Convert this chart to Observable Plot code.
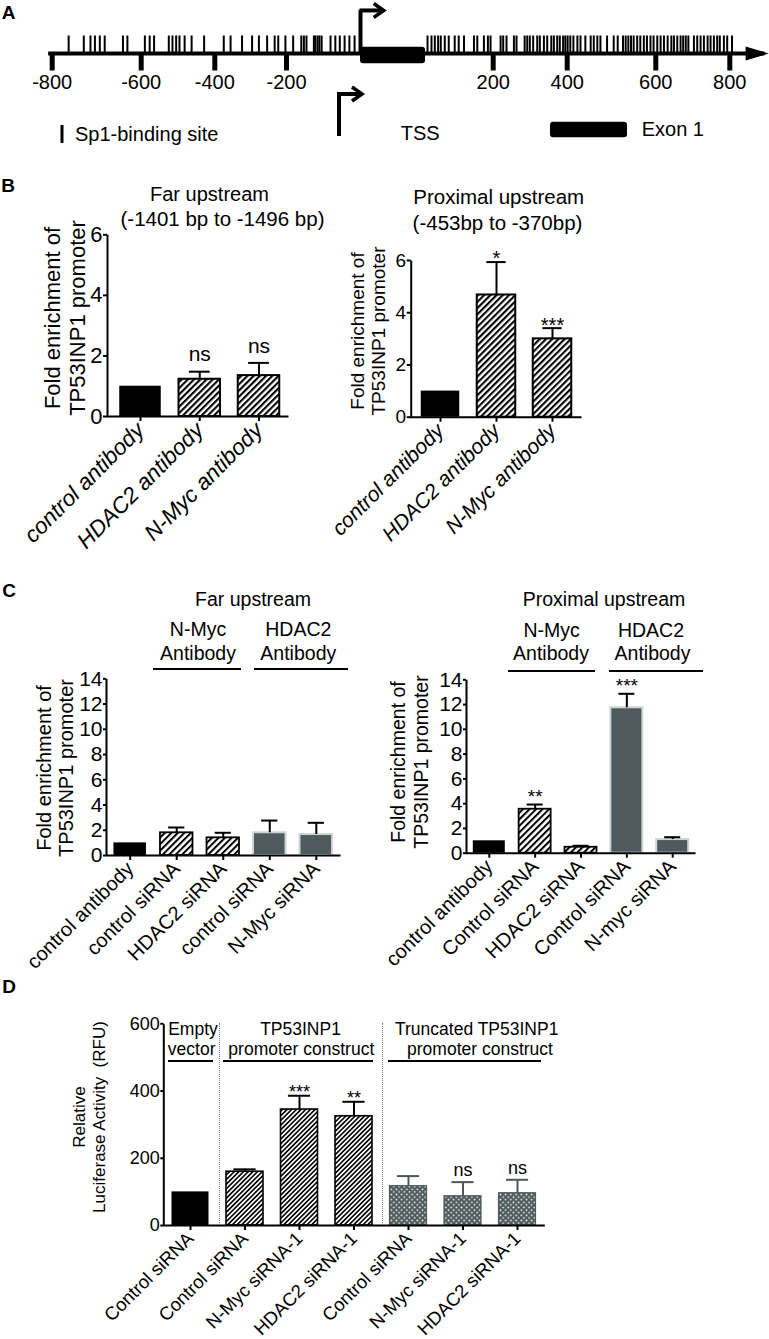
<!DOCTYPE html>
<html><head><meta charset="utf-8">
<script src="https://cdn.jsdelivr.net/npm/d3@7"></script>
<script src="https://cdn.jsdelivr.net/npm/@observablehq/plot@0.6"></script>
<style>
html,body{margin:0;padding:0;background:#fff}
#fig{position:relative;width:769px;height:1339px;overflow:hidden;font-family:"Liberation Sans",Arial,Helvetica,sans-serif;color:#000;background:#fff}
.t{position:absolute;white-space:pre;line-height:1;text-align:center}
</style></head>
<body><div id="fig"></div>
<script>
// ---------------- DATA ----------------
// Panel A: schematic of TP53INP1 promoter (bp relative to TSS)
const sp1Sites = [-763,-729,-714,-704,-693,-682,-641,-631,-590,-577,-565,-525,-515,-505,-496,-482,-463,-429,
  -375,-356,-324,-296,-277,-254,-233,-223,-203,-182,-160,-153,-146,-126,-122,-116,-111,-105,-81,-68,-56,-43,-30,-16,
  101,107,112,117,121,127,133,142,148,156,171,176,186,192,196,220,227,236,256,263,285,292,299,308,319,326,337,346,
  357,364,373,380,389,395,401,407,414,423,430,441,453,460,468,475,490,505,514,526,532,538,544,550,558,565,573,580,
  588,595,604,613,622,632,642,649,658,667,674,681,688,703,712,721,730,740,748,757,766,773,784,793,806];
const axisTicks = [-800,-600,-400,-200,200,400,600,800];
const schematicBreaks = [-800,-600,-400,-200,0,200,400,600,800];
const exon1 = [{start:0, end:98}];
const tss = 0;
const axisStart = -808, axisEnd = 905;

// Panel B: ChIP, fold enrichment
const bCats = ["control antibody","HDAC2 antibody","N-Myc antibody"];
const bGroup = ["control","target","target"];
const bFarMean = [1.0, 1.23, 1.35];
const bFarErr  = [null, 1.48, 1.77];
const bFarSig  = ["", "ns", "ns"];
const bProxMean = [1.0, 4.68, 3.0];
const bProxErr  = [null, 5.94, 3.41];
const bProxSig  = ["", "*", "***"];

// Panel C: ChIP after siRNA
const cFarCats  = ["control antibody","control siRNA","HDAC2 siRNA","control siRNA","N-Myc siRNA"];
const cProxCats = ["control antibody","Control siRNA","HDAC2 siRNA","Control siRNA","N-myc siRNA"];
const cGroup = ["control","nmyc","nmyc","hdac2","hdac2"];
const cFarMean  = [1.0, 1.8, 1.4, 1.8, 1.66];
const cFarErr   = [null, 2.22, 1.8, 2.77, 2.59];
const cFarSig   = ["", "", "", "", ""];
const cProxMean = [1.0, 3.55, 0.48, 11.74, 1.1];
const cProxErr  = [null, 3.93, 0.6, 12.87, 1.29];
const cProxSig  = ["", "**", "", "***", ""];

// Panel D: luciferase reporter
const dCats = ["Control siRNA","Control siRNA","N-Myc siRNA-1","HDAC2 siRNA-1","Control siRNA","N-Myc siRNA-1","HDAC2 siRNA-1"];
const dGroup = ["empty","full","full","full","truncated","truncated","truncated"];
const dMean = [100, 160, 345, 325, 117, 87, 96];
const dErr  = [null, 167, 386, 368, 147, 129, 136];
const dSig  = ["", "", "***", "**", "", "ns", "ns"];

// ---------------- HELPERS ----------------
const SVGNS = "http://www.w3.org/2000/svg";
const FONT = '"Liberation Sans", Arial, Helvetica, sans-serif';
const fig = document.getElementById("fig");
function place(node, left, top){ node.style.position="absolute"; node.style.left=left+"px"; node.style.top=top+"px"; fig.appendChild(node); return node; }
function txt(s, x, y, size, opt={}){
  const d = document.createElement("div");
  d.className = "t"; d.textContent = s;
  d.style.left = x+"px"; d.style.top = y+"px"; d.style.fontSize = size+"px";
  if (opt.weight) d.style.fontWeight = opt.weight;
  if (opt.lh) d.style.lineHeight = opt.lh+"px";
  const tx = opt.anchor==="start" ? "0" : opt.anchor==="end" ? "-100%" : "-50%";
  d.style.transform = `translate(${tx},-50%)` + (opt.rotate ? ` rotate(${opt.rotate}deg)` : "");
  fig.appendChild(d); return d;
}
function hline(x1, x2, y, w=2, color="#000"){
  const d = document.createElement("div");
  d.style.cssText = `position:absolute;left:${x1}px;top:${y-w/2}px;width:${x2-x1}px;height:${w}px;background:${color}`;
  fig.appendChild(d);
}
function vdots(x, y1, y2){
  const d = document.createElement("div");
  d.style.cssText = `position:absolute;left:${x}px;top:${y1}px;height:${y2-y1}px;width:0;border-left:1px dotted #777`;
  fig.appendChild(d);
}
const styleMaps = {
  b: {control:"solid", target:"hatch"},
  c: {control:"solid", nmyc:"hatch", hdac2:"grey"},
  d: {empty:"solid", full:"hatch", truncated:"dots"}
};

function barChart(o){
  const n = o.cats.length;
  const mL = o.axisX - o.left, mR = o.left + o.width - o.axisEnd;
  const mT = o.yTop - o.top, mB = o.top + o.height - o.y0;
  const w = o.width - mL - mR, h = o.height - mT - mB;
  const step = (o.cLast - o.c0) / (n - 1);
  const pI = 1 - o.barW / step;
  const data = o.cats.map((c, i) => ({i, mean:o.mean[i], err:o.err[i], sig:o.sig[i], style:o.styles[o.group[i]]}));
  const id = o.id;
  const defs = () => {
    const g = document.createElementNS(SVGNS, "g");
    g.innerHTML = `<defs>
      <pattern id="${id}-hatch" patternUnits="userSpaceOnUse" width="${o.hs}" height="${o.hs}" patternTransform="rotate(45)">
        <rect width="${o.hs}" height="${o.hs}" fill="#fff"/><rect width="${o.hw}" height="${o.hs}" fill="#000"/></pattern>
      <pattern id="${id}-dots" patternUnits="userSpaceOnUse" width="5.2" height="5.2">
        <rect width="5.2" height="5.2" fill="#4f5b5b"/><circle cx="1.3" cy="1.3" r="0.85" fill="#fff"/><circle cx="3.9" cy="3.9" r="0.85" fill="#fff"/></pattern>
    </defs>`;
    return g;
  };
  const inset = o.barW * (1 - o.capFrac) / 2;
  const errMain = data.filter(d => d.err != null && d.style !== "dots");
  const errDots = data.filter(d => d.err != null && d.style === "dots");
  const svg = Plot.plot({
    width:o.width, height:o.height, marginLeft:mL, marginRight:mR, marginTop:mT, marginBottom:mB,
    x:{type:"band", domain:d3.range(n), range:[o.c0 - step/2 - o.left, o.cLast + step/2 - o.left], paddingInner:pI, paddingOuter:pI/2, round:false},
    y:{domain:[0, o.yMax]},
    style:{background:"transparent", fontFamily:FONT, overflow:"visible", color:"#000"},
    marks:[
      defs,
      Plot.barY(data.filter(d => d.style==="solid"), {x:"i", y:"mean", fill:"#000"}),
      Plot.barY(data.filter(d => d.style==="hatch"), {x:"i", y:"mean", fill:`url(#${id}-hatch)`, stroke:"#000", strokeWidth:o.sw}),
      Plot.barY(data.filter(d => d.style==="grey"), {x:"i", y:"mean", fill:"#4f5a5c", stroke:"#cdd4d4", strokeWidth:2}),
      Plot.barY(data.filter(d => d.style==="dots"), {x:"i", y:"mean", fill:`url(#${id}-dots)`, stroke:"#4f5b5b", strokeWidth:1.2}),
      Plot.ruleX(errMain, {x:"i", y1:"mean", y2:"err", stroke:"#000", strokeWidth:2}),
      Plot.tickY(errMain, {x:"i", y:"err", stroke:"#000", strokeWidth:2, insetLeft:inset, insetRight:inset}),
      Plot.ruleX(errDots, {x:"i", y1:"mean", y2:"err", stroke:"#4d5858", strokeWidth:2}),
      Plot.tickY(errDots, {x:"i", y:"err", stroke:"#4d5858", strokeWidth:2, insetLeft:inset, insetRight:inset}),
      Plot.text(data.filter(d => /\*/.test(d.sig)), {x:"i", y:"err", text:"sig", fontSize:o.sigFont, dy:o.dyStar}),
      Plot.text(data.filter(d => d.sig==="ns"), {x:"i", y:"err", text:"sig", fontSize:o.sigFont, dy:o.dyNs}),
      Plot.frame({stroke:"#000", strokeWidth:2, strokeDasharray:`0 ${w+h} ${w+h} 0`}),
      Plot.axisY({ticks:o.yTicks, tickFormat:d => String(d), tickSize:o.tickSize, tickPadding:o.tickPad, fontSize:o.tickFont, strokeWidth:2, label:null}),
      Plot.axisX({tickSize:5, tickPadding:o.xPad, tickRotate:-45, fontSize:o.labelFont, fontStyle:o.italic ? "italic" : "normal",
                  tickFormat:i => o.cats[i], strokeWidth:2, label:null})
    ]
  });
  place(svg, o.left, o.top);
}

// ---------------- PANEL A ----------------
const headTri = {draw(ctx){ ctx.moveTo(0,0); ctx.lineTo(-23,-7); ctx.lineTo(-23,7); ctx.closePath(); }};
const chevron = {draw(ctx){ ctx.moveTo(-10,-7); ctx.lineTo(0,0); ctx.lineTo(-10,7); }};
const plotA = Plot.plot({
  width:769, height:150, margin:0,
  x:{type:"linear", axis:null, domain:schematicBreaks, range:[51.7,140.7,214.3,286,360,492.7,566.7,655.3,729.3]},
  y:{axis:null, domain:[-1,1], range:[70.5,35.5]},
  style:{background:"transparent", fontFamily:FONT, overflow:"visible", color:"#000"},
  marks:[
    Plot.ruleX(sp1Sites, {x:d => d, y1:0, y2:1, stroke:"#000", strokeWidth:2}),
    Plot.ruleY([0], {x1:axisStart, x2:axisEnd - 10, stroke:"#000", strokeWidth:4}),
    Plot.dot([axisEnd], {x:d => d, y:0, symbol:headTri, fill:"#000", stroke:"none"}),
    Plot.ruleX(axisTicks, {x:d => d, y1:0, y2:-1, stroke:"#000", strokeWidth:5}),
    Plot.text(axisTicks, {x:d => d, y:-1.65, text:d => String(d), fontSize:20}),
    Plot.rect(exon1, {x1:"start", x2:"end", y1:-0.59, y2:0.36, fill:"#000", rx:3}),
    Plot.ruleX([tss], {x:d => d, y1:0, y2:2.46, stroke:"#000", strokeWidth:4}),
    Plot.ruleY([2.46], {x1:tss - 1.5, x2:tss + 33, stroke:"#000", strokeWidth:4}),
    Plot.dot([tss + 35], {x:d => d, y:2.46, symbol:chevron, fill:"none", stroke:"#000", strokeWidth:3.5})
  ]
});
place(plotA, 0, 0);

// Panel A legend
const leg = document.createElementNS(SVGNS, "svg");
leg.setAttribute("width", 769); leg.setAttribute("height", 160);
leg.innerHTML = `<rect x="60.5" y="125" width="3" height="18" fill="#000"/>
  <path d="M339,136 V94 H360" fill="none" stroke="#000" stroke-width="4"/>
  <path d="M352,87 L362,94 L352,101" fill="none" stroke="#000" stroke-width="3.5"/>
  <rect x="550" y="121.7" width="77" height="15.6" rx="3" fill="#000"/>`;
place(leg, 0, 0);
txt("Sp1-binding site", 75, 134, 20, {anchor:"start"});
txt("TSS", 400.7, 133, 20, {anchor:"start"});
txt("Exon 1", 641.7, 129, 20, {anchor:"start"});

// ---------------- PANEL B ----------------
barChart({id:"bl", left:0, top:180, width:380, height:400, axisX:107, axisEnd:288, y0:416, yTop:234.3, yMax:6, yTicks:[0,2,4,6],
  c0:140, cLast:258.5, barW:41.5, cats:bCats, group:bGroup, styles:styleMaps.b, mean:bFarMean, err:bFarErr, sig:bFarSig,
  tickFont:22, tickSize:4, tickPad:1, labelFont:22.5, italic:true, xPad:5, sigFont:21, dyStar:-4, dyNs:-17, capFrac:0.5, sw:2, hs:4.4, hw:2.1});
barChart({id:"br", left:380, top:180, width:389, height:400, axisX:410.7, axisEnd:581, y0:416.7, yTop:260, yMax:6, yTicks:[0,2,4,6],
  c0:440, cLast:552, barW:38.5, cats:bCats, group:bGroup, styles:styleMaps.b, mean:bProxMean, err:bProxErr, sig:bProxSig,
  tickFont:19, tickSize:4, tickPad:1, labelFont:21, italic:true, xPad:5, sigFont:20, dyStar:-3, dyNs:-16, capFrac:0.5, sw:2, hs:4.4, hw:2.1});

txt("Far upstream", 209.5, 194, 20);
txt("(-1401 bp to -1496 bp)", 222.5, 218.5, 20.5);
txt("Proximal upstream", 498.7, 196.5, 20.5);
txt("(-453bp to -370bp)", 497.5, 222.5, 20.5);
txt("Fold enrichment of\nTP53INP1 promoter", 64.5, 318, 22, {rotate:-90, lh:24.5});
txt("Fold enrichment of\nTP53INP1 promoter", 367.5, 331, 19, {rotate:-90, lh:20.5});

// ---------------- PANEL C ----------------
barChart({id:"cl", left:0, top:580, width:380, height:400, axisX:106, axisEnd:340, y0:855, yTop:678.3, yMax:14, yTicks:[0,2,4,6,8,10,12,14],
  c0:129.7, cLast:315.8, barW:32.5, cats:cFarCats, group:cGroup, styles:styleMaps.c, mean:cFarMean, err:cFarErr, sig:cFarSig,
  tickFont:21, tickSize:3, tickPad:1, labelFont:20, italic:false, xPad:5, sigFont:19, dyStar:-7, dyNs:-16, capFrac:0.5, sw:1.8, hs:4.6, hw:2});
barChart({id:"cr", left:380, top:580, width:389, height:400, axisX:466, axisEnd:695, y0:852.7, yTop:679.3, yMax:14, yTicks:[0,2,4,6,8,10,12,14],
  c0:488.8, cLast:672.2, barW:32, cats:cProxCats, group:cGroup, styles:styleMaps.c, mean:cProxMean, err:cProxErr, sig:cProxSig,
  tickFont:21, tickSize:3, tickPad:1, labelFont:20, italic:false, xPad:5, sigFont:19, dyStar:-7.5, dyNs:-16, capFrac:0.5, sw:1.8, hs:4.6, hw:2});

txt("Far upstream", 253, 600, 19.5);
txt("N-Myc", 198, 630, 19.5); txt("Antibody", 198, 653.5, 19.5);
txt("HDAC2", 298.3, 630, 19.5); txt("Antibody", 298.3, 653.5, 19.5);
hline(153, 241, 669); hline(254, 348, 669);
txt("Proximal upstream", 604, 600, 19.5);
txt("N-Myc", 551.7, 630.5, 19.5); txt("Antibody", 551, 654, 19.5);
txt("HDAC2", 651, 630.5, 19.5); txt("Antibody", 652.5, 654, 19.5);
hline(508, 595, 670.7); hline(609, 703, 670.7);
txt("Fold enrichment of\nTP53INP1 promoter", 56, 768, 20, {rotate:-90, lh:21.7});
txt("Fold enrichment of\nTP53INP1 promoter", 410, 762, 19.5, {rotate:-90, lh:23});

// ---------------- PANEL D ----------------
barChart({id:"d", left:0, top:980, width:769, height:359, axisX:163.3, axisEnd:544.3, y0:1225, yTop:1023.3, yMax:600, yTicks:[0,200,400,600],
  c0:190, cLast:517, barW:37, cats:dCats, group:dGroup, styles:styleMaps.d, mean:dMean, err:dErr, sig:dSig,
  tickFont:18, tickSize:3, tickPad:1, labelFont:18.5, italic:false, xPad:5, sigFont:18, dyStar:-3.5, dyNs:-12, capFrac:0.6, sw:1.6, hs:3.3, hw:1.6});
vdots(219, 1023, 1225); vdots(381.7, 1023, 1225);
txt("Empty", 193, 1030, 17.5); txt("vector", 191.7, 1050, 17.5);
txt("TP53INP1", 300.5, 1030, 17.5); txt("promoter construct", 301.3, 1050, 17.5);
txt("Truncated TP53INP1", 476.7, 1030, 17.5); txt("promoter construct", 480, 1050, 17.5);
hline(168, 213.3, 1060.5); hline(222.7, 373.3, 1060.5); hline(388.3, 541, 1060.5);
txt("Relative\nLuciferase Activity  (RFU)", 90, 1117, 17, {rotate:-90, lh:20});

// Panel letters
txt("A", 8.5, 12, 19, {weight:"bold"});
txt("B", 8, 185, 19, {weight:"bold"});
txt("C", 9, 590, 19, {weight:"bold"});
txt("D", 9, 985.5, 19, {weight:"bold"});
</script>
</body></html>
